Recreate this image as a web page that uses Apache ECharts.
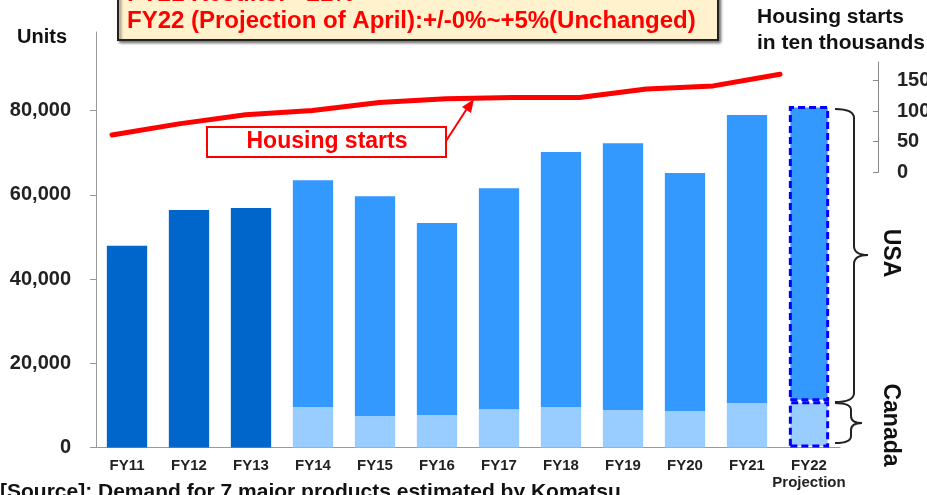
<!DOCTYPE html>
<html>
<head>
<meta charset="utf-8">
<title>Housing starts / demand</title>
<script src="https://cdn.jsdelivr.net/npm/echarts@6/dist/echarts.min.js"></script>
<style>
  html, body { margin: 0; padding: 0; background: #fff; }
  #chart { width: 927px; height: 495px; }
</style>
</head>
<body>
<div id="chart"></div>
<script>
// categories
var years = ['FY11', 'FY12', 'FY13', 'FY14', 'FY15', 'FY16', 'FY17', 'FY18', 'FY19', 'FY20', 'FY21', 'FY22\nProjection'];
// FY11-FY13 only a total is shown
var totalOld = [47900, 56400, 56900, '-', '-', '-', '-', '-', '-', '-', '-', '-'];
var canada = ['-', '-', '-', 9600, 7500, 7700, 9100, 9600, 8900, 8700, 10600, 11000];
var usa = ['-', '-', '-', 53900, 52200, 45600, 52500, 60600, 63400, 56500, 68400, 70100];
// housing starts, in ten thousands
var housingYears = ['FY11', 'FY12', 'FY13', 'FY14', 'FY15', 'FY16', 'FY17', 'FY18', 'FY19', 'FY20', 'FY21'];
var housing = [61, 79, 94, 101, 114, 120, 122, 122, 136, 141, 160];
// tick labels
var unitTicks = [0, 20000, 40000, 60000, 80000];
var housingTicks = [0, 50, 100, 150];

var font = 'Liberation Sans, Arial, sans-serif';
var dashed = { borderColor: '#0000FF', borderWidth: 3, borderType: [7, 4] };

function withProjection(arr) {
    return arr.map(function (v, i) {
        if (i === arr.length - 1 && v !== '-') {
            return { value: v, itemStyle: dashed };
        }
        return v;
    });
}

// curly brace "}" drawn from curves and lines
function brace(x0, xv, xt, yTop, yMid, yBot, r) {
    var st = { stroke: '#222', lineWidth: 2, fill: null };
    return [
        { type: 'bezierCurve', shape: { x1: x0, y1: yTop, cpx1: xv, cpy1: yTop, x2: xv, y2: yTop + r }, style: st },
        { type: 'line', shape: { x1: xv, y1: yTop + r, x2: xv, y2: yMid - r }, style: st },
        { type: 'bezierCurve', shape: { x1: xv, y1: yMid - r, cpx1: xv, cpy1: yMid, x2: xt, y2: yMid }, style: st },
        { type: 'bezierCurve', shape: { x1: xt, y1: yMid, cpx1: xv, cpy1: yMid, x2: xv, y2: yMid + r }, style: st },
        { type: 'line', shape: { x1: xv, y1: yMid + r, x2: xv, y2: yBot - r }, style: st },
        { type: 'bezierCurve', shape: { x1: xv, y1: yBot - r, cpx1: xv, cpy1: yBot, x2: x0, y2: yBot }, style: st }
    ];
}

var graphics = [
    // note box at top
    {
        type: 'rect',
        shape: { x: 118, y: -10, width: 600, height: 50 },
        style: { fill: '#FFF2CC', stroke: '#222', lineWidth: 2, shadowBlur: 3, shadowOffsetX: 2, shadowOffsetY: 2, shadowColor: 'rgba(0,0,0,0.5)' },
        z: 10
    },
    {
        type: 'text', x: 127, y: -18,
        style: { text: 'FY21 Results: +21%', fill: '#FF0000', font: 'bold 24px ' + font },
        z: 11
    },
    {
        type: 'text', x: 127, y: 9,
        style: { text: 'FY22 (Projection of April):+/-0%~+5%(Unchanged)', fill: '#FF0000', font: 'bold 24px ' + font },
        z: 11
    },
    // axis names
    {
        type: 'text', x: 17, y: 27,
        style: { text: 'Units', fill: '#111', font: 'bold 20px ' + font }
    },
    {
        type: 'text', x: 757, y: 4,
        style: { text: 'Housing starts\nin ten thousands', fill: '#111', font: 'bold 21px ' + font, lineHeight: 26 }
    },
    // housing starts label + arrow
    {
        type: 'rect',
        shape: { x: 207, y: 127, width: 239, height: 30 },
        style: { fill: '#fff', stroke: '#FF0000', lineWidth: 2 },
        z: 10
    },
    {
        type: 'text', x: 327, y: 142,
        style: { text: 'Housing starts', fill: '#FF0000', font: 'bold 23px ' + font, align: 'center', verticalAlign: 'middle' },
        z: 11
    },
    {
        type: 'line',
        shape: { x1: 446, y1: 141, x2: 468, y2: 107 },
        style: { stroke: '#FF0000', lineWidth: 2 },
        z: 10
    },
    {
        type: 'polygon',
        shape: { points: [[474, 99], [471, 113], [462, 107]] },
        style: { fill: '#FF0000' },
        z: 10
    },
    {
        type: 'text', x: 890, y: 253, rotation: -Math.PI / 2,
        style: { text: 'USA', fill: '#111', font: 'bold 23px ' + font, align: 'center', verticalAlign: 'middle' }
    },
    {
        type: 'text', x: 890, y: 425, rotation: -Math.PI / 2,
        style: { text: 'Canada', fill: '#111', font: 'bold 23px ' + font, align: 'center', verticalAlign: 'middle' }
    },
    // source note, cut off at the bottom edge
    {
        type: 'text', x: 0, y: 482,
        style: { text: '[Source]: Demand for 7 major products estimated by Komatsu', fill: '#111', font: 'bold 21px ' + font }
    }
].concat(brace(835, 854, 868, 109, 255, 402, 9), brace(835, 851, 862, 403, 423, 443, 7));

var chart = echarts.init(document.getElementById('chart'));
chart.setOption({
    animation: false,
    grid: [
        { left: 96, right: 87, top: 32, bottom: 47.5, outerBoundsMode: 'none', containLabel: false },
        { left: 112, right: 147, top: 62, bottom: 322.7, outerBoundsMode: 'none', containLabel: false }
    ],
    xAxis: [{
        type: 'category',
        gridIndex: 0,
        data: years,
        axisLine: { lineStyle: { color: '#999' } },
        axisTick: { length: 5, lineStyle: { color: '#999' } },
        axisLabel: { interval: 0, hideOverlap: false, color: '#222', fontFamily: font, fontWeight: 'bold', fontSize: 15, margin: 10, lineHeight: 17 }
    }, {
        type: 'category',
        gridIndex: 1,
        data: housingYears,
        boundaryGap: false,
        show: false
    }],
    yAxis: [{
        type: 'value',
        gridIndex: 0,
        min: 0,
        max: 98700,
        splitLine: { show: false },
        axisLine: { show: true, lineStyle: { color: '#999' } },
        axisTick: { show: true, length: 6, customValues: unitTicks, lineStyle: { color: '#999' } },
        axisLabel: {
            customValues: unitTicks,
            color: '#222', fontFamily: font, fontWeight: 'bold', fontSize: 20, margin: 25,
            formatter: function (v) { return v.toLocaleString('en-US'); }
        }
    }, {
        type: 'value',
        gridIndex: 1,
        position: 'right',
        offset: 98,
        min: 0,
        max: 180,
        splitLine: { show: false },
        axisLine: { show: true, lineStyle: { color: '#888' } },
        axisTick: { show: true, inside: true, length: 5, customValues: housingTicks, lineStyle: { color: '#888' } },
        axisLabel: {
            customValues: housingTicks,
            color: '#222', fontFamily: font, fontWeight: 'bold', fontSize: 20, margin: 19
        }
    }],
    series: [{
        name: 'Total',
        type: 'bar',
        stack: 'demand',
        barWidth: '65%',
        itemStyle: { color: '#0066CC' },
        data: totalOld
    }, {
        name: 'Canada',
        type: 'bar',
        stack: 'demand',
        itemStyle: { color: '#99CCFF' },
        data: withProjection(canada)
    }, {
        name: 'USA',
        type: 'bar',
        stack: 'demand',
        itemStyle: { color: '#3399FF' },
        data: withProjection(usa)
    }, {
        name: 'Housing starts',
        type: 'line',
        xAxisIndex: 1,
        yAxisIndex: 1,
        symbol: 'none',
        lineStyle: { color: '#FF0000', width: 5, cap: 'round', join: 'round' },
        data: housing,
        z: 5
    }],
    graphic: graphics
});
</script>
</body>
</html>
